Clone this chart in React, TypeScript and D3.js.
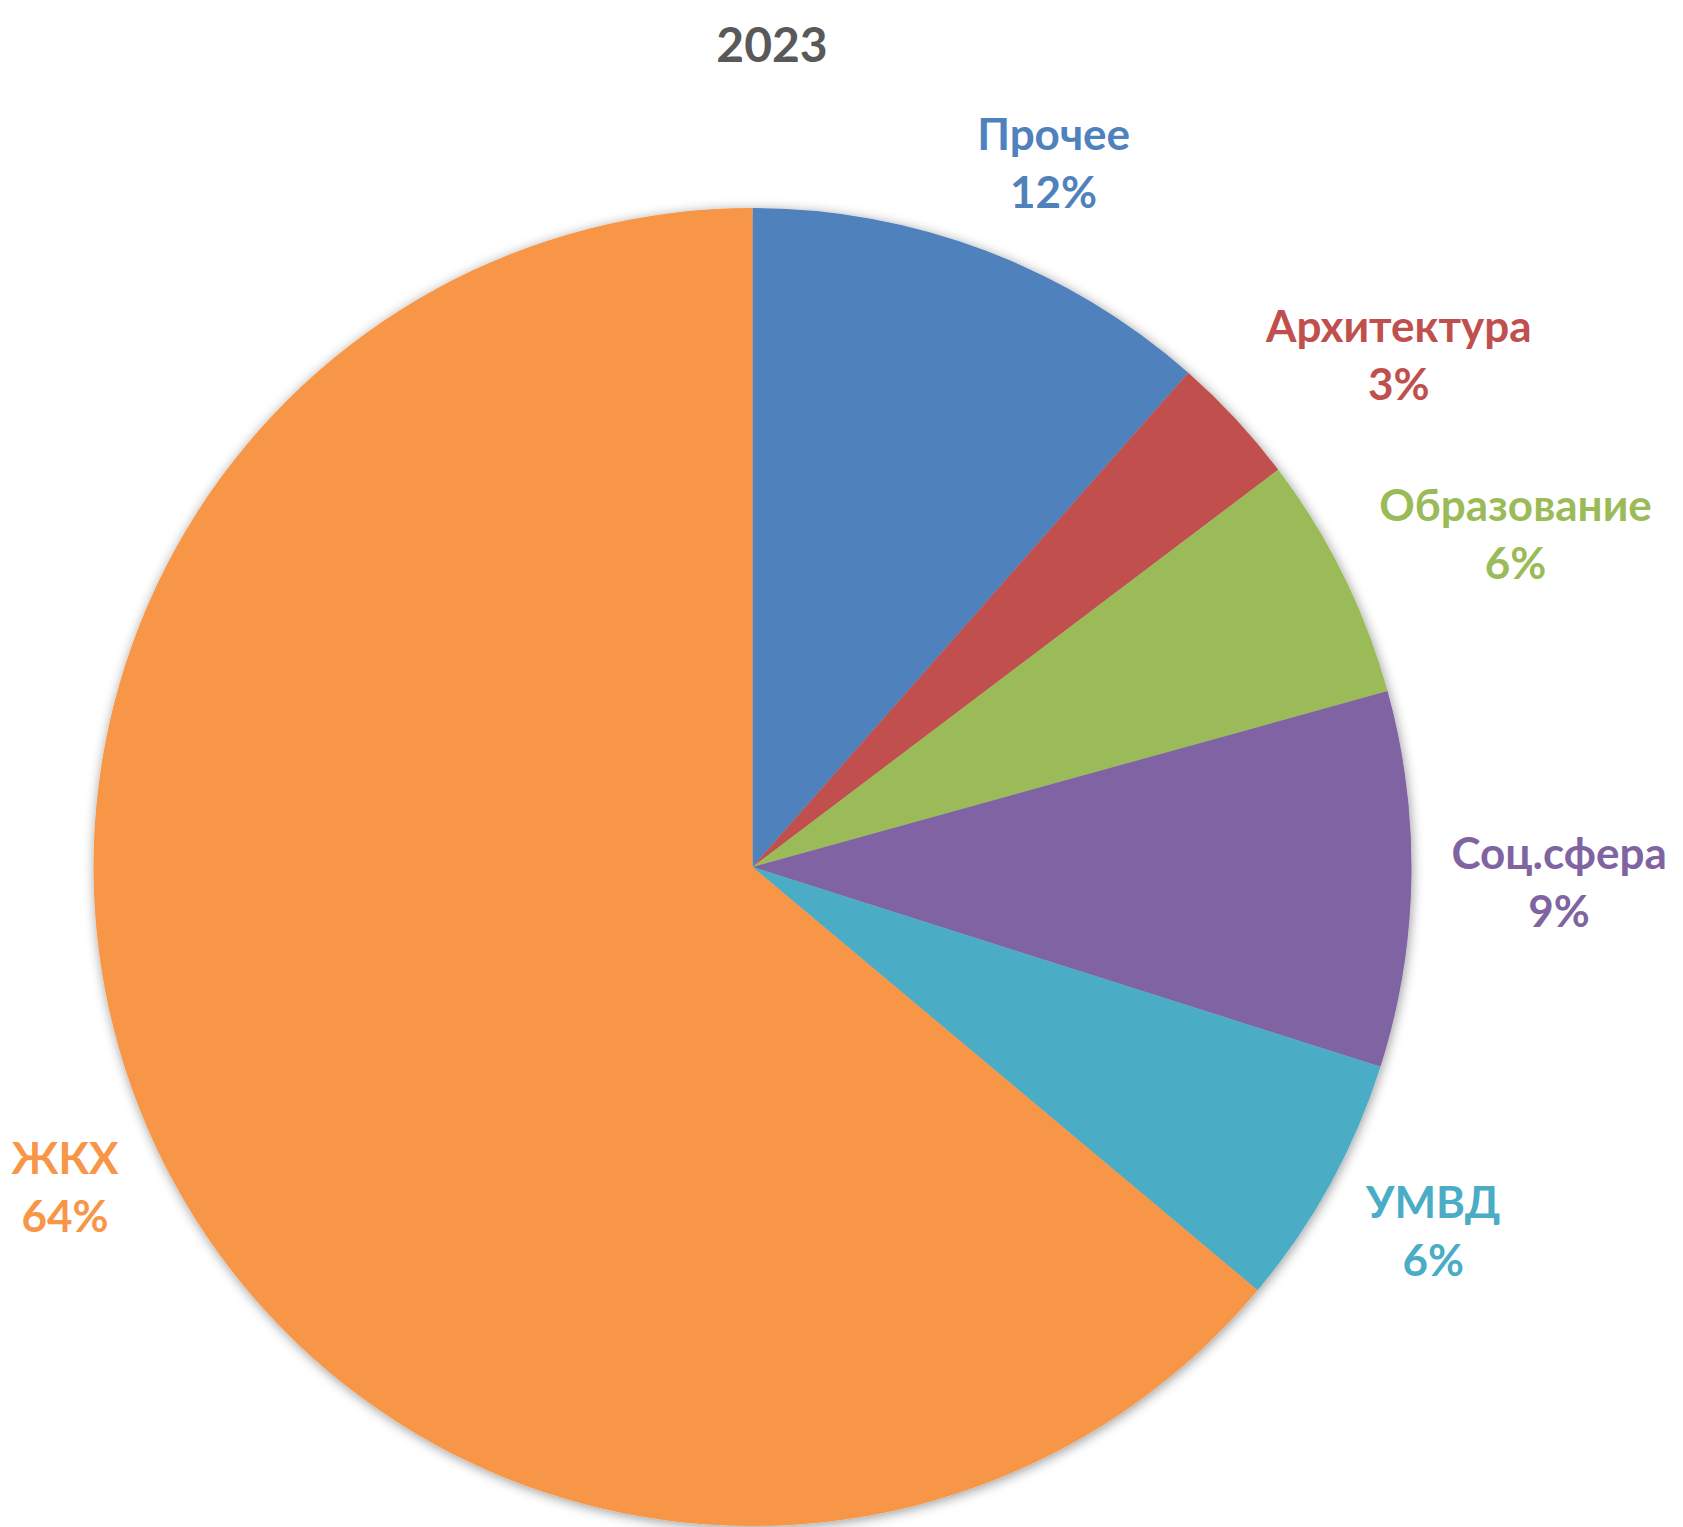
import * as d3 from 'd3';
import React from 'react';
import { useRef, useEffect } from 'react';

const title = '2023';
const categories = ['Прочее', 'Архитектура', 'Образование', 'Соц.сфера', 'УМВД', 'ЖКХ'];
const shares = [11.5, 3.2, 6.0, 9.2, 6.2, 63.9];
const colors = ['#4F81BD', '#C0504D', '#9BBB59', '#8064A2', '#4BACC6', '#F79646'];

const width = 1683;
const height = 1527;
const cx = 752.5;
const cy = 867;
const radius = 659;
const labelGap = 40;
const font = 'Lato, "Open Sans", sans-serif';

export default function App() {
  const svgRef = useRef<SVGSVGElement | null>(null);

  useEffect(() => {
    if (!svgRef.current) return;
    const svg = d3.select(svgRef.current);
    svg.selectAll('*').remove();

    svg
      .append('defs')
      .append('filter')
      .attr('id', 'pie-shadow')
      .attr('x', '-10%')
      .attr('y', '-10%')
      .attr('width', '120%')
      .attr('height', '120%')
      .append('feDropShadow')
      .attr('dx', 1)
      .attr('dy', 2)
      .attr('stdDeviation', 6)
      .attr('flood-color', '#000')
      .attr('flood-opacity', 0.4);

    svg
      .append('text')
      .attr('x', 772)
      .attr('y', 62)
      .attr('text-anchor', 'middle')
      .attr('font-family', font)
      .attr('font-weight', 700)
      .attr('font-size', 48)
      .attr('fill', '#595959')
      .text(title);

    const pie = d3
      .pie<number>()
      .sort(null)
      .value((d) => d)
      .startAngle(0)
      .endAngle(2 * Math.PI);
    const arcs = pie(shares);
    const arc = d3.arc<d3.PieArcDatum<number>>().innerRadius(0).outerRadius(radius);

    const g = svg.append('g').attr('transform', `translate(${cx},${cy})`);

    g.append('g')
      .attr('filter', 'url(#pie-shadow)')
      .selectAll('path')
      .data(arcs)
      .join('path')
      .attr('d', arc)
      .attr('fill', (_d, i) => colors[i]);

    // outside-end labels: anchor on the slice's mid ray, box pushed outward
    const total = d3.sum(shares);
    arcs.forEach((a, i) => {
      const text = g
        .append('text')
        .attr('text-anchor', 'middle')
        .attr('font-family', font)
        .attr('font-weight', 700)
        .attr('font-size', 44)
        .attr('fill', colors[i]);
      text.append('tspan').attr('x', 0).attr('y', 0).text(categories[i]);
      text
        .append('tspan')
        .attr('x', 0)
        .attr('y', 58)
        .text(`${Math.round((a.value / total) * 100)}%`);

      const box = (text.node() as SVGTextElement).getBBox();
      const theta = (a.startAngle + a.endAngle) / 2;
      const s = Math.sin(theta);
      const c = Math.cos(theta);
      const px = (radius + labelGap) * s;
      const py = -(radius + labelGap) * c;
      const fx = Math.sign(s) * Math.min(1, Math.abs(s) * 2);
      const centerX = px + (box.width / 2) * fx;
      const centerY = py - (box.height / 2) * c;
      const tx = centerX - (box.x + box.width / 2);
      const ty = centerY - (box.y + box.height / 2);
      text.attr('transform', `translate(${tx},${ty})`);
    });
  }, []);

  return (
    <svg
      ref={svgRef}
      width={width}
      height={height}
      style={{ position: 'absolute', left: 0, top: 0, display: 'block', background: '#fff' }}
    />
  );
}
